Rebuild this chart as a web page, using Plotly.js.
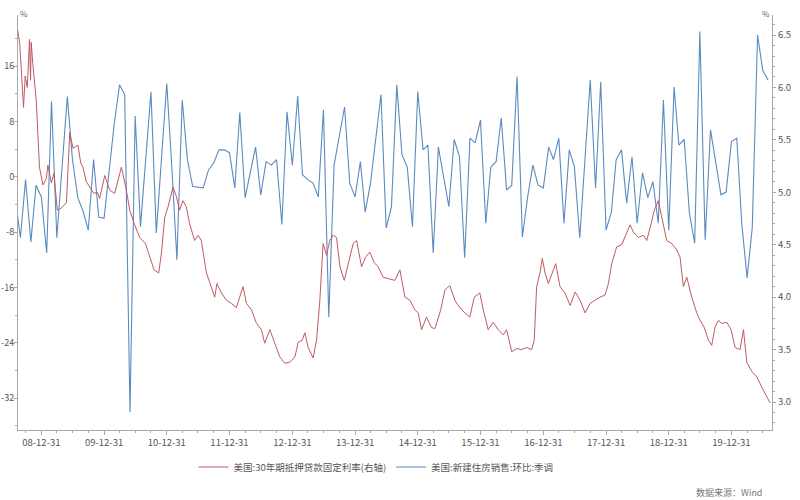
<!DOCTYPE html>
<html><head><meta charset="utf-8">
<script src="https://cdn.plot.ly/plotly-3.0.1.min.js"></script>
<style>html,body{margin:0;padding:0;background:#fff}#chart{width:800px;height:500px}</style>
</head><body><div id="chart"></div>
<script>
const redName = '美国:30年期抵押贷款固定利率(右轴)';
const blueName = '美国:新建住房销售:环比:季调';

// Blue: monthly, first month 2008-07 (left axis, %)
const blueStartYear = 2008, blueStartMonth = 7;
const blueValues = [
  -2.9, -8.8, -0.4, -9.4, -1.2, -2.9,
  -11, 10.9, -8.8, 1.5, 11.6, 2.5, -3, -5, -7.7, 2.5, -5.8, -6,
  0.9, 7.6, 13.3, 11.9, -34, 8.8, -7.2, 2.5, 12.3, -8.1, 2.7, 13.5,
  0.7, -12, 11.1, 2.5, -1.4, -1.5, -1.6, 1.0, 2.0, 3.9, 3.9, 3.5,
  -1.6, 9.3, -3, 0.6, 4.3, -2.6, 2.2, 1.7, 2.5, -6.9, 9.4, 1.7,
  11.7, 0.3, -0.4, -0.9, -2.9, 9.7, -20.3, 1.7, 6, 10.1, -0.9, -2.9,
  2.2, -5.1, -0.9, 5, 11.9, -7.4, -4.3, 13.3, 3.2, 1.4, -7.2, 12.3,
  3.9, 4.6, -11, 4.3, 0, -4.3, 5.4, 2.9, -11.7, 5.6, 4.9, 8.2,
  -6.7, 1.4, 2.2, 8.5, -1.9, -1.2, 14.5, -8.7, -3, 1.7, -1.2, -1.6,
  4.3, 2.5, 5.6, -6.7, 3.9, 1.4, -8.8, 2.5, 14, -1.6, 13.7, -7.7,
  -5.1, 2.5, 3.9, -3.8, 2.9, -6.7, 0.6, -3, -0.7, -6.7, 11.1, -7.7,
  13, 4.6, 5.4, -5.2, -9.6, 21, -9.1, 6.8, 2, -2.6, -2.2, 5.1,
  5.6, -6.7, -14.6, -7.4, 20.5, 15.4, 14.0
];

// Red: 30y fixed mortgage rate (right axis, %)
const redDates = [
  '2008-08-14','2008-08-27','2008-09-18','2008-09-28','2008-10-10','2008-10-23','2008-10-29','2008-11-02','2008-11-11','2008-12-01','2008-12-20',
  '2009-01-09','2009-01-29','2009-02-07','2009-02-27','2009-03-14','2009-04-03','2009-04-26','2009-05-26','2009-06-14','2009-07-03','2009-08-01','2009-08-17','2009-08-30','2009-09-19','2009-10-08','2009-11-02','2009-11-22','2009-12-05',
  '2010-01-04','2010-02-02','2010-03-03','2010-04-11','2010-05-10','2010-05-29','2010-06-27','2010-07-26','2010-08-29','2010-09-23','2010-10-18','2010-11-14','2010-11-30','2010-12-19',
  '2011-01-07','2011-02-05','2011-02-25','2011-03-16','2011-04-04','2011-04-24','2011-05-13','2011-06-11','2011-07-01','2011-07-20','2011-08-19','2011-09-07','2011-10-06','2011-10-19','2011-11-14','2011-12-13',
  '2012-01-11','2012-02-09','2012-03-19','2012-04-08','2012-05-07','2012-06-05','2012-07-04','2012-07-23','2012-08-22','2012-09-20','2012-10-19','2012-11-17','2012-12-16',
  '2013-01-15','2013-02-03','2013-02-26','2013-03-14','2013-04-02','2013-05-01','2013-05-21','2013-06-09','2013-06-28','2013-07-18','2013-08-06','2013-08-26','2013-09-14','2013-10-04','2013-10-29','2013-11-21','2013-12-20',
  '2014-01-09','2014-02-07','2014-03-02','2014-03-27','2014-04-21','2014-05-14','2014-06-13','2014-07-12','2014-08-20','2014-09-18','2014-10-17','2014-11-15','2014-12-14',
  '2015-01-03','2015-01-22','2015-02-20','2015-03-21','2015-04-10','2015-05-14','2015-06-07','2015-07-06','2015-08-04','2015-09-02','2015-10-01','2015-10-30','2015-11-25','2015-12-27',
  '2016-01-16','2016-02-14','2016-03-14','2016-04-12','2016-05-12','2016-05-31','2016-06-30','2016-07-29','2016-08-27','2016-09-25','2016-10-24','2016-11-08','2016-11-22','2016-12-11','2016-12-25',
  '2017-01-10','2017-01-29','2017-02-22','2017-03-13','2017-04-07','2017-05-06','2017-06-05','2017-07-04','2017-08-02','2017-08-31','2017-09-29','2017-10-28','2017-11-26','2017-12-25',
  '2018-01-14','2018-02-02','2018-03-03','2018-04-01','2018-04-21','2018-05-20','2018-06-08','2018-07-07','2018-08-05','2018-08-25','2018-09-19','2018-10-08','2018-10-31','2018-11-20','2018-12-19',
  '2019-01-18','2019-02-16','2019-03-07','2019-03-26','2019-04-15','2019-05-14','2019-06-12','2019-07-01','2019-07-26','2019-08-19','2019-09-07','2019-09-26','2019-10-16','2019-11-04','2019-12-04','2019-12-29',
  '2020-01-21','2020-02-19','2020-03-10','2020-03-29','2020-04-28','2020-05-27','2020-06-25','2020-07-24','2020-08-12'
];
const redValues = [
  6.56, 6.42, 5.81, 6.11, 6.00, 6.46, 6.07, 6.43, 6.23, 5.88, 5.24,
  5.07, 5.13, 5.26, 5.09, 5.18, 4.83, 4.85, 4.90, 5.57, 5.42, 5.45, 5.28, 5.24, 5.10, 5.05, 4.99, 5.00, 4.94,
  5.16, 5.02, 4.99, 5.24, 5.02, 4.83, 4.69, 4.57, 4.51, 4.38, 4.26, 4.23, 4.42, 4.76,
  4.86, 5.05, 4.96, 4.83, 4.92, 4.86, 4.70, 4.54, 4.59, 4.54, 4.23, 4.14, 4.00, 4.13, 4.04, 3.97,
  3.94, 3.90, 4.10, 3.94, 3.88, 3.75, 3.69, 3.56, 3.69, 3.56, 3.43, 3.37, 3.38,
  3.43, 3.57, 3.59, 3.66, 3.52, 3.42, 3.59, 3.97, 4.51, 4.40, 4.54, 4.59, 4.57, 4.29, 4.16, 4.32, 4.51,
  4.54, 4.29, 4.38, 4.43, 4.33, 4.29, 4.19, 4.18, 4.16, 4.26, 4.00, 3.97, 3.88,
  3.85, 3.69, 3.81, 3.71, 3.70, 3.88, 4.07, 4.11, 3.97, 3.90, 3.85, 3.81, 4.00, 4.04,
  3.88, 3.69, 3.76, 3.69, 3.64, 3.69, 3.48, 3.51, 3.50, 3.52, 3.50, 3.59, 4.10, 4.23, 4.37,
  4.23, 4.13, 4.23, 4.32, 4.10, 4.04, 3.92, 4.05, 3.97, 3.85, 3.94, 3.97, 4.00, 4.02,
  4.13, 4.32, 4.48, 4.50, 4.58, 4.69, 4.62, 4.57, 4.59, 4.54, 4.70, 4.83, 4.92, 4.76, 4.54,
  4.51, 4.45, 4.38, 4.10, 4.19, 4.00, 3.85, 3.78, 3.71, 3.59, 3.54, 3.71, 3.78, 3.75, 3.76, 3.69,
  3.52, 3.50, 3.69, 3.38, 3.29, 3.24, 3.14, 3.04, 2.99
];

const xTickVals = ['2008-12-31','2009-12-31','2010-12-31','2011-12-31','2012-12-31','2013-12-31','2014-12-31','2015-12-31','2016-12-31','2017-12-31','2018-12-31','2019-12-31'];
const xTickText = ['08-12-31','09-12-31','10-12-31','11-12-31','12-12-31','13-12-31','14-12-31','15-12-31','16-12-31','17-12-31','18-12-31','19-12-31'];
const yTickVals = [-32, -24, -16, -8, 0, 8, 16];
const yTickText = ['-32', '-24', '-16', '-8', '0', '8', '16'];
const y2TickVals = [3.0, 3.5, 4.0, 4.5, 5.0, 5.5, 6.0, 6.5];
const y2TickText = ['3.0', '3.5', '4.0', '4.5', '5.0', '5.5', '6.0', '6.5'];

function pad(n){ return (n < 10 ? '0' : '') + n; }
function monthEnd(y, m){ const d = new Date(Date.UTC(y, m, 0)).getUTCDate(); return y + '-' + pad(m) + '-' + pad(d); }
const blueDates = blueValues.map((v, i) => {
  const k = blueStartMonth - 1 + i;
  return monthEnd(blueStartYear + Math.floor(k / 12), (k % 12) + 1);
});
const minorX = [];
for (let y = 2008; y <= 2020; y++) {
  ['03-31','06-30','09-30'].forEach(s => minorX.push(y + '-' + s));
}

const axisCol = '#a8a8a8';
const tickFont = {family: 'Noto Sans CJK SC, Roboto, sans-serif', size: 9.5, color: '#555'};
const leftTickFont = {family: 'Noto Sans CJK SC, Roboto, sans-serif', size: 9, color: '#555'};

const data = [
  {x: blueDates, y: blueValues, type: 'scatter', mode: 'lines', name: blueName, yaxis: 'y',
   line: {color: '#5a8bc0', width: 1.1}, legendrank: 2},
  {x: redDates, y: redValues, type: 'scatter', mode: 'lines', name: redName, yaxis: 'y2',
   line: {color: '#c05a60', width: 1}, legendrank: 1}
];

const layout = {
  width: 800, height: 500,
  margin: {l: 18, r: 28, t: 15, b: 70},
  paper_bgcolor: '#ffffff', plot_bgcolor: '#ffffff',
  showlegend: true,
  legend: {orientation: 'h', xref: 'container', yref: 'container', x: 0.47, xanchor: 'center', y: 0.066, yanchor: 'middle',
           font: {family: 'Noto Sans CJK SC, sans-serif', size: 9.5, color: '#555'}, itemwidth: 30, traceorder: 'normal'},
  xaxis: {type: 'date', range: ['2008-08-17', '2020-08-23'], tickmode: 'array', tickvals: xTickVals, ticktext: xTickText,
          ticks: 'outside', ticklen: 4, tickcolor: axisCol, showline: true, linecolor: axisCol, linewidth: 1,
          showgrid: false, zeroline: false, tickfont: tickFont,
          minor: {tickmode: 'array', tickvals: minorX, ticks: 'outside', ticklen: 2, tickcolor: axisCol, showgrid: false}},
  yaxis: {range: [-36.6, 23.4], tickmode: 'array', tickvals: yTickVals, ticktext: yTickText,
          ticks: 'outside', ticklen: 3, tickcolor: axisCol, showline: true, linecolor: axisCol,
          showgrid: false, zeroline: false, tickfont: leftTickFont, ticklabelstandoff: -2,
          minor: {dtick: 4, tick0: 0, ticks: 'outside', ticklen: 2, tickcolor: axisCol, showgrid: false}},
  yaxis2: {range: [2.733, 6.691], overlaying: 'y', side: 'right', tickmode: 'array', tickvals: y2TickVals, ticktext: y2TickText,
           ticks: 'outside', ticklen: 3, tickcolor: axisCol, showline: true, linecolor: axisCol,
           showgrid: false, zeroline: false, tickfont: tickFont,
           minor: {dtick: 0.1, tick0: 0, ticks: 'outside', ticklen: 2, tickcolor: axisCol, showgrid: false}},
  annotations: [
    {text: '%', xref: 'paper', yref: 'paper', x: 0, y: 1, xanchor: 'left', yanchor: 'bottom', showarrow: false,
     font: {family: 'Noto Sans CJK SC, sans-serif', size: 8, color: '#666'}, yshift: -6},
    {text: '%', xref: 'paper', yref: 'paper', x: 1, y: 1, xanchor: 'right', yanchor: 'bottom', showarrow: false,
     font: {family: 'Noto Sans CJK SC, sans-serif', size: 8, color: '#666'}, yshift: -6},
    {text: '数据来源：Wind', xref: 'paper', yref: 'paper', x: 0.99, y: 0, yanchor: 'top', xanchor: 'right', yshift: -54, showarrow: false,
     font: {family: 'Noto Sans CJK SC, sans-serif', size: 9, color: '#777'}}
  ]
};

Plotly.newPlot('chart', data, layout, {displayModeBar: false, staticPlot: true});
</script>
</body></html>
